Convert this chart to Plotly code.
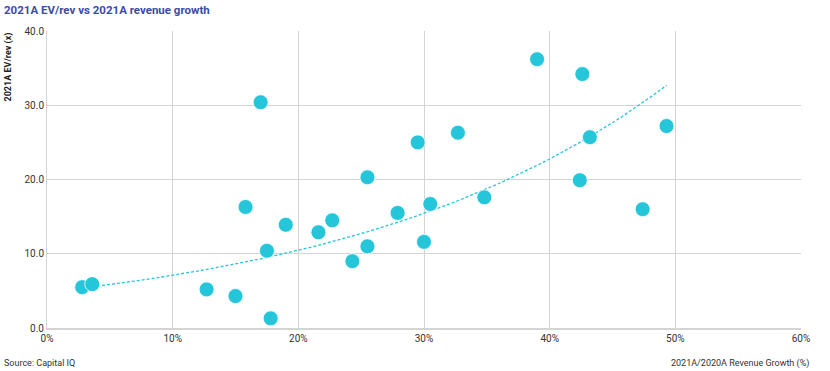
import numpy as np
import plotly.graph_objects as go

growth = [2.8, 3.6, 12.7, 15.0, 17.8, 17.0, 15.8, 17.5, 19.0, 21.6, 22.7, 24.3, 25.5, 25.5,
          27.9, 29.5, 30.0, 30.5, 32.7, 34.8, 39.0, 42.6, 42.4, 43.2, 47.4, 49.3]
ev_rev = [5.5, 5.9, 5.2, 4.3, 1.3, 30.4, 16.3, 10.4, 13.9, 12.9, 14.5, 9.0, 20.3, 11.0,
          15.5, 25.0, 11.6, 16.7, 26.3, 17.6, 36.2, 34.2, 19.9, 25.7, 16.0, 27.2]
x_ticks = [0, 10, 20, 30, 40, 50, 60]
x_tick_labels = ["0%", "10%", "20%", "30%", "40%", "50%", "60%"]
y_ticks = [0, 10, 20, 30, 40]
y_tick_labels = ["0.0", "10.0", "20.0", "30.0", "40.0"]

# Exponential trendline (least squares on log y)
gx = np.array(growth)
gy = np.array(ev_rev)
b, lna = np.polyfit(gx, np.log(gy), 1)
tx = np.linspace(gx.min(), gx.max(), 80)
ty = np.exp(lna) * np.exp(b * tx)

teal = "#26C6DA"
fig = go.Figure()
fig.add_trace(go.Scatter(x=tx, y=ty, mode="lines",
                         line=dict(color=teal, width=1.3, dash="3px,2px"),
                         hoverinfo="skip", showlegend=False))
fig.add_trace(go.Scatter(x=growth, y=ev_rev, mode="markers",
                         marker=dict(color=teal, size=15, line=dict(width=0.8, color="white")),
                         showlegend=False))

font_family = "Roboto, Arial, sans-serif"
fig.update_layout(
    width=830, height=371,
    margin=dict(l=47, r=29, t=31, b=43),
    paper_bgcolor="white", plot_bgcolor="white",
    font=dict(family=font_family, size=10, color="#333333"),
    xaxis=dict(range=[0, 60], tickvals=x_ticks, ticktext=x_tick_labels,
               showgrid=True, gridcolor="#D4D4D4", gridwidth=1,
               zeroline=False, showline=True, linecolor="#D4D4D4", linewidth=2,
               ticks="", ticklen=0, tickfont=dict(size=10, color="#333333"),
               automargin=False),
    yaxis=dict(range=[0, 40], tickvals=y_ticks, ticktext=y_tick_labels,
               showgrid=True, gridcolor="#D4D4D4", gridwidth=1,
               zeroline=False, showline=True, linecolor="#D4D4D4", linewidth=1,
               ticks="", tickfont=dict(size=10, color="#333333"),
               automargin=False),
    annotations=[
        dict(text="<b>2021A EV/rev vs 2021A revenue growth</b>", xref="paper", yref="paper",
             x=-45/754, y=1 + 21/297, xanchor="left", yanchor="middle", showarrow=False,
             font=dict(size=11.5, color="#3B4BA8", family=font_family)),
        dict(text="<b>2021A EV/rev (x)</b>", xref="paper", yref="paper",
             x=-39/754, y=1.0, xanchor="center", yanchor="top", textangle=-90, showarrow=False,
             font=dict(size=9, color="#222222", family=font_family)),
        dict(text="Source: Capital IQ", xref="paper", yref="paper",
             x=-45/754, y=-35/297, xanchor="left", yanchor="middle", showarrow=False,
             font=dict(size=9, color="#333333", family=font_family)),
        dict(text="2021A/2020A Revenue Growth (%)", xref="paper", yref="paper",
             x=1 + 10/754, y=-35/297, xanchor="right", yanchor="middle", showarrow=False,
             font=dict(size=9, color="#333333", family=font_family)),
    ],
)

fig.write_html("out.html", config={"displayModeBar": False},
               post_script="document.body.style.margin='0';")
